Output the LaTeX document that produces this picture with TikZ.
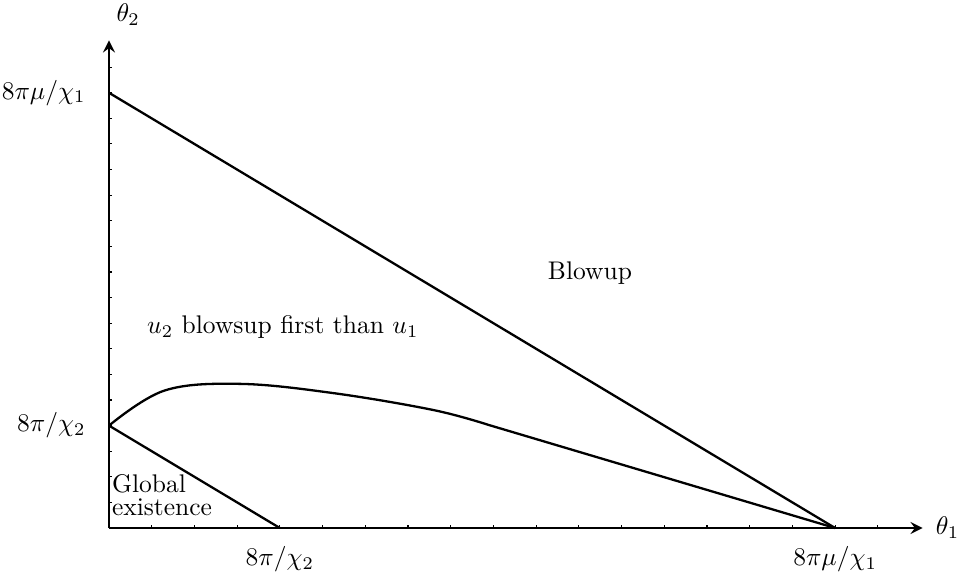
\documentclass[tikz,border=0pt]{standalone}
\usetikzlibrary{positioning}
\begin{document}
\begin{tikzpicture}[
    x=0.5886cm, y=0.3528cm,
    axis/.style={->, line width=1.1pt, >=stealth},
    bound/.style={line width=0.9pt},
    tick/.style={line width=0.4pt},
    lab/.style={font=\normalsize, inner sep=1pt}
]
    \useasboundingbox (-1.502cm,-0.606cm) rectangle (11.713cm,7.276cm);

    % Points
    \coordinate (O) at (0,0);
    \coordinate (xend) at (19.05,0);
    \coordinate (yend) at (0,19.05);
    \coordinate (A) at (0,17);
    \coordinate (B) at (17,0);
    \coordinate (C) at (0,4);
    \coordinate (D) at (4,0);
    \coordinate (K) at (8.9,4.02);

    % Ticks
    \foreach \i in {1,...,18} {
        \draw[tick] (\i,0) -- ++(0,0.12);
        \draw[tick] (0,\i) -- ++(0.07,0);
    }

    % Axes
    \draw[axis] (O) -- (xend);
    \draw[axis] (O) -- (yend);
    \node[lab, right=4pt of xend] (t1) {$\theta_1$};
    \node[lab] (t2) at (0.45,20.05) {$\theta_2$};

    % Tick labels
    \node[lab, left=8pt of A] (lA) {$8\pi\mu/\chi_1$};
    \node[lab, left=8pt of C] (lC) {$8\pi/\chi_2$};
    \node[lab, below=6pt of D] (lD) {$8\pi/\chi_2$};
    \node[lab, below=6pt of B] (lB) {$8\pi\mu/\chi_1$};

    % Boundaries
    \draw[bound] (A) -- (B);
    \draw[bound] (C) -- (D);
    \draw[bound] plot[smooth, tension=0.6] coordinates {
        (0,4) (1.3,5.37) (3.07,5.63) (5.25,5.27) (7.59,4.61) (8.9,4.02)}
        -- (B);

    % Regions
    \node[lab] (blow) at (11.26,9.96) {Blowup};
    \node[lab] (first) at (4.07,7.85) {$u_2$ blowsup first than $u_1$};
    \node[lab, anchor=west, align=left, inner sep=0pt] (glob) at (0.06,1.3) {Global\\[-3pt]existence};
\end{tikzpicture}
\end{document}
